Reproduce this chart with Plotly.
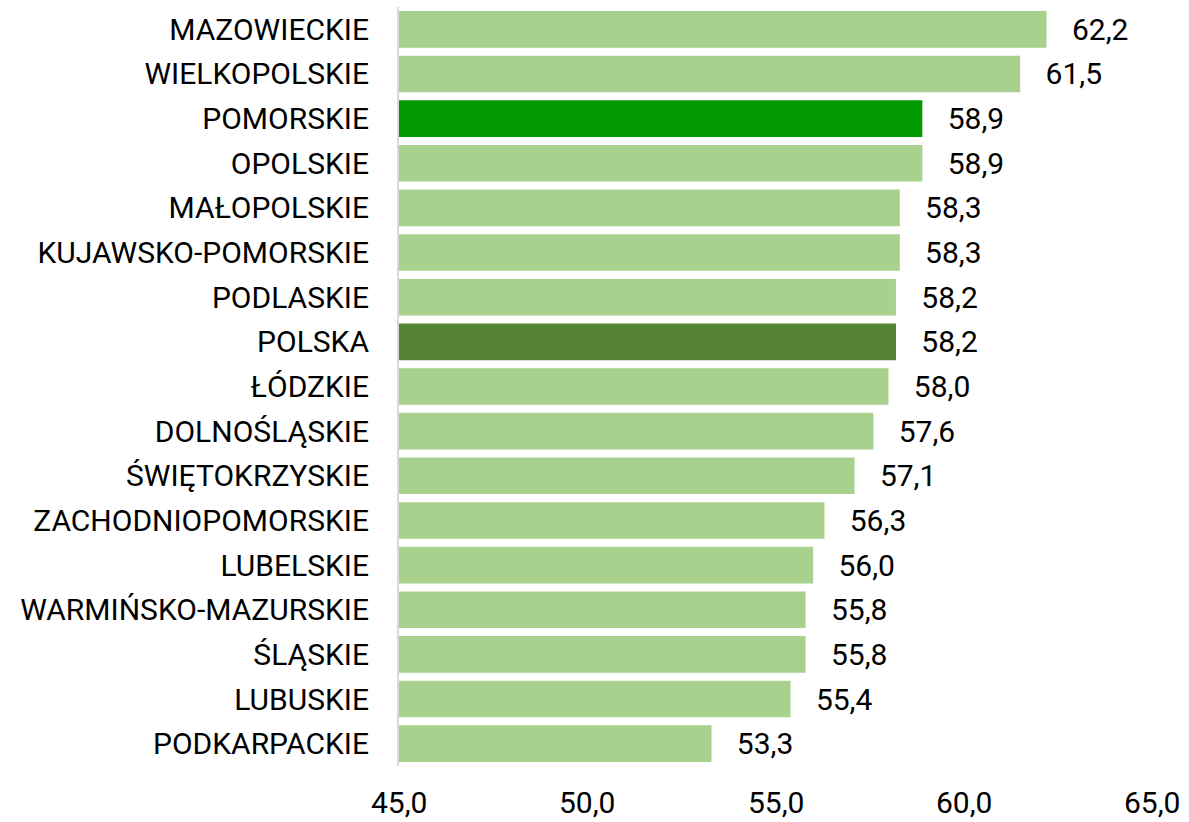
import plotly.graph_objects as go

regions = ["MAZOWIECKIE", "WIELKOPOLSKIE", "POMORSKIE", "OPOLSKIE", "MAŁOPOLSKIE",
           "KUJAWSKO-POMORSKIE", "PODLASKIE", "POLSKA", "ŁÓDZKIE", "DOLNOŚLĄSKIE",
           "ŚWIĘTOKRZYSKIE", "ZACHODNIOPOMORSKIE", "LUBELSKIE", "WARMIŃSKO-MAZURSKIE",
           "ŚLĄSKIE", "LUBUSKIE", "PODKARPACKIE"]
values = [62.2, 61.5, 58.9, 58.9, 58.3, 58.3, 58.2, 58.2, 58.0, 57.6,
          57.1, 56.3, 56.0, 55.8, 55.8, 55.4, 53.3]
tick_vals = [45, 50, 55, 60, 65]
tick_text = ["45,0", "50,0", "55,0", "60,0", "65,0"]
axis_min = 45

LIGHT = "#a9d18e"
colors = []
for r in regions:
    if r == "POMORSKIE":
        colors.append("#009900")
    elif r == "POLSKA":
        colors.append("#548235")
    else:
        colors.append(LIGHT)

FONT = "Roboto"
FS = 30

fig = go.Figure()
fig.add_trace(go.Bar(
    y=regions, x=[v - axis_min for v in values], base=axis_min, orientation="h",
    marker=dict(color=colors, line=dict(width=0)),
    width=0.82,
    text=["   " + f"{v:.1f}".replace(".", ",") for v in values],
    textposition="outside",
    textfont=dict(family=FONT, size=FS, color="#000000"),
    constraintext="none",
    cliponaxis=False,
    hoverinfo="skip",
))

annotations = []
for tv, tt in zip(tick_vals, tick_text):
    annotations.append(dict(
        x=tv, xref="x", y=0, yref="paper", text=tt, showarrow=False,
        yanchor="top", yshift=-17, xanchor="center",
        font=dict(family=FONT, size=FS, color="#000000"),
    ))

fig.update_layout(
    width=1189, height=822,
    margin=dict(l=399, r=37, t=7, b=56, autoexpand=False),
    plot_bgcolor="white", paper_bgcolor="white",
    showlegend=False,
    separators=",.",
    font=dict(family=FONT, size=FS, color="#000000"),
    annotations=annotations,
    bargap=0.18,
)
fig.update_xaxes(range=[45, 65], showgrid=False, zeroline=False, showticklabels=False,
                 showline=False, ticks="", tickvals=tick_vals)
fig.update_yaxes(autorange="reversed", showgrid=False, zeroline=False,
                 showline=True, linecolor="#d9d9d9", linewidth=2, ticks="",
                 ticklabelstandoff=22,
                 tickfont=dict(family=FONT, size=FS, color="#000000"))

fig.write_html("out.html", config={"displayModeBar": False},
               post_script="document.body.style.margin='0';")
